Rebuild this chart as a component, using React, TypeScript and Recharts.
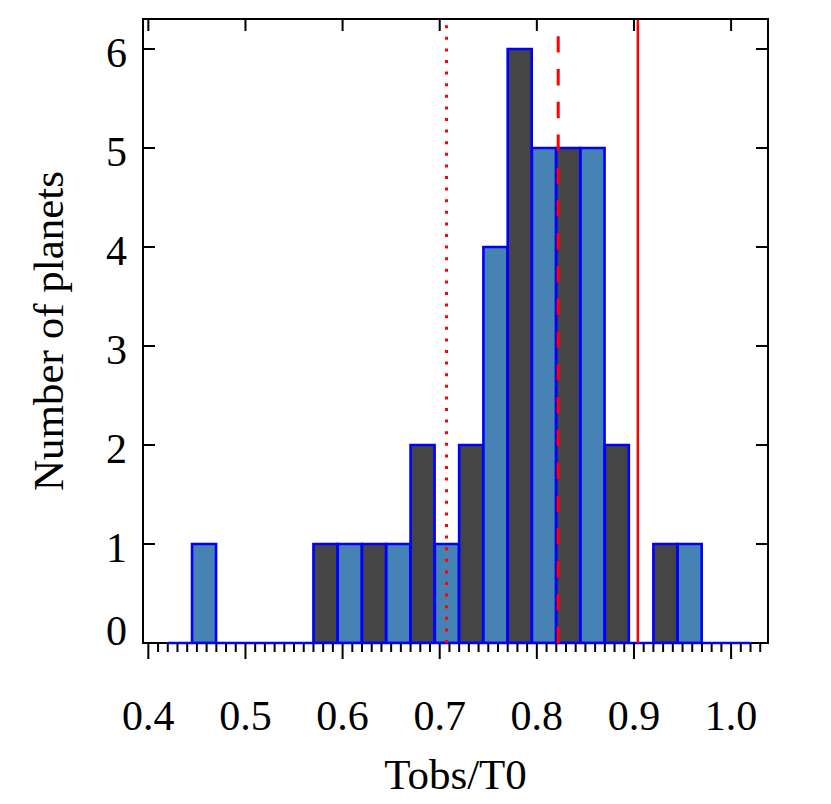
import React from "react";
import { ComposedChart, Bar, Cell, XAxis, YAxis, ReferenceLine } from "recharts";

// histogram bins (lower edges, width 0.025) and counts
const binStarts = [
  0.42, 0.445, 0.47, 0.495, 0.52, 0.545, 0.57, 0.595,
  0.62, 0.645, 0.67, 0.695, 0.72, 0.745, 0.77, 0.795,
  0.82, 0.845, 0.87, 0.895, 0.92, 0.945, 0.97, 0.995,
];
const counts = [0, 1, 0, 0, 0, 0, 1, 1, 1, 1, 2, 1, 2, 4, 6, 5, 5, 5, 2, 0, 1, 1, 0, 0];
const binRange = [0.42, 1.02];

const xMajorTicks = [0.4, 0.5, 0.6, 0.7, 0.8, 0.9, 1.0];
const yTicks = [0, 1, 2, 3, 4, 5, 6];

// dotted, dashed, solid markers
const markerValues = [0.707, 0.822, 0.904];
const markerDash = ["3 8.6", "16.4 16.4", undefined];
const markerWidth = [3, 3, 2.5];

const X_DOMAIN: [number, number] = [0.3945, 1.038];
const Y_DOMAIN: [number, number] = [0, 6.303];

const W = 831;
const H = 804;
const LEFT = 143;
const RIGHT = 63;
const TOP = 19;
const BOTTOM = 161;
const PLOT_W = W - LEFT - RIGHT;

const SERIF = "'Liberation Serif', 'Times New Roman', serif";
const BLUE_FILL = "#4682b4";
const DARK_FILL = "#454545";
const EDGE = "#0000ff";

const data = binStarts.map((lo, i) => ({ bin: lo.toFixed(3), lo, count: counts[i] }));

const xMinorTicks = Array.from({ length: 64 }, (_, i) => Math.round((0.4 + i * 0.01) * 100) / 100);
const isMajor = (v: number) => Math.abs(v * 10 - Math.round(v * 10)) < 1e-6;

const span = X_DOMAIN[1] - X_DOMAIN[0];
const padLeft = ((binRange[0] - X_DOMAIN[0]) / span) * PLOT_W;
const padRight = ((X_DOMAIN[1] - binRange[1]) / span) * PLOT_W;

const BottomTick = (p: any) => {
  const v = p.payload.value;
  const major = isMajor(v);
  return (
    <g>
      <line x1={p.x} y1={p.y} x2={p.x} y2={p.y + (major ? 16 : 9)} stroke="#000" strokeWidth={2} />
      {major && (
        <text x={p.x} y={p.y + 87} textAnchor="middle" fontSize={42} fontFamily={SERIF} fill="#000">
          {v.toFixed(1)}
        </text>
      )}
    </g>
  );
};

const TopTick = (p: any) => (
  <line x1={p.x} y1={p.y} x2={p.x} y2={p.y + 12} stroke="#000" strokeWidth={2} />
);

const LeftTick = (p: any) => (
  <g>
    <line x1={p.x} y1={p.y} x2={p.x + 12} y2={p.y} stroke="#000" strokeWidth={2} />
    <text
      x={p.x - 16}
      y={p.y + (p.payload.value === 0 ? 2 : 18)}
      textAnchor="end"
      fontSize={42}
      fontFamily={SERIF}
      fill="#000"
    >
      {p.payload.value}
    </text>
  </g>
);

const RightTick = (p: any) => (
  <line x1={p.x} y1={p.y} x2={p.x - 12} y2={p.y} stroke="#000" strokeWidth={2} />
);

const frame = { stroke: "#000", strokeWidth: 2, strokeLinecap: "square" as const };

export default function App() {
  return (
    <div style={{ position: "absolute", left: 0, top: 0, width: W, height: H, background: "#fff" }}>
      <ComposedChart
        width={W}
        height={H}
        data={data}
        margin={{ top: 0, right: 0, bottom: 0, left: 0 }}
        barCategoryGap={0}
        barGap={0}
      >
        <XAxis
          xAxisId="bins"
          dataKey="bin"
          type="category"
          hide
          height={0}
          padding={{ left: padLeft, right: padRight }}
        />
        <XAxis
          xAxisId="x"
          dataKey="lo"
          type="number"
          orientation="bottom"
          domain={X_DOMAIN}
          allowDataOverflow
          ticks={xMinorTicks}
          interval={0}
          height={BOTTOM}
          tickSize={0}
          tickMargin={0}
          tickLine={false}
          axisLine={false}
          tick={BottomTick}
          label={(props: any) => {
            const vb = props.viewBox;
            return (
              <text x={vb.x + vb.width / 2} y={vb.y + 146} textAnchor="middle" fontSize={43} fontFamily={SERIF} fill="#000">
                Tobs/T0
              </text>
            );
          }}
        />
        <XAxis
          xAxisId="xt"
          dataKey="lo"
          type="number"
          orientation="top"
          domain={X_DOMAIN}
          allowDataOverflow
          ticks={xMajorTicks}
          interval={0}
          height={TOP}
          tickSize={0}
          tickMargin={0}
          tickLine={false}
          axisLine={frame}
          tick={TopTick}
        />
        <YAxis
          yAxisId="y"
          type="number"
          orientation="left"
          domain={Y_DOMAIN}
          allowDataOverflow
          ticks={yTicks}
          interval={0}
          width={LEFT}
          tickSize={0}
          tickMargin={0}
          tickLine={false}
          axisLine={frame}
          tick={LeftTick}
          label={(props: any) => {
            const vb = props.viewBox;
            const cy = vb.y + vb.height / 2;
            return (
              <text
                x={63}
                y={cy}
                transform={`rotate(-90, 63, ${cy})`}
                textAnchor="middle"
                fontSize={43}
                fontFamily={SERIF}
                fill="#000"
              >
                Number of planets
              </text>
            );
          }}
        />
        <YAxis
          yAxisId="yr"
          type="number"
          orientation="right"
          domain={Y_DOMAIN}
          allowDataOverflow
          ticks={yTicks}
          interval={0}
          width={RIGHT}
          tickSize={0}
          tickMargin={0}
          tickLine={false}
          axisLine={frame}
          tick={RightTick}
        />
        <Bar
          dataKey="count"
          xAxisId="bins"
          yAxisId="y"
          stroke={EDGE}
          strokeWidth={2.6}
          isAnimationActive={false}
        >
          {data.map((_, i) => (
            <Cell key={i} fill={i % 2 === 0 ? DARK_FILL : BLUE_FILL} />
          ))}
        </Bar>
        {/* bottom frame: black outside the histogram range, blue step baseline inside */}
        <ReferenceLine
          xAxisId="x"
          yAxisId="y"
          segment={[{ x: X_DOMAIN[0], y: 0 }, { x: binRange[0], y: 0 }]}
          stroke="#000"
          strokeWidth={2}
        />
        <ReferenceLine
          xAxisId="x"
          yAxisId="y"
          segment={[{ x: binRange[1], y: 0 }, { x: X_DOMAIN[1], y: 0 }]}
          stroke="#000"
          strokeWidth={2}
        />
        <ReferenceLine
          xAxisId="x"
          yAxisId="y"
          segment={[{ x: binRange[0], y: 0 }, { x: binRange[1], y: 0 }]}
          stroke={EDGE}
          strokeWidth={2.6}
        />
        {markerValues.map((v, i) => (
          <ReferenceLine
            key={v}
            xAxisId="x"
            yAxisId="y"
            x={v}
            stroke="#ff0000"
            strokeWidth={markerWidth[i]}
            strokeDasharray={markerDash[i]}
          />
        ))}
      </ComposedChart>
    </div>
  );
}
